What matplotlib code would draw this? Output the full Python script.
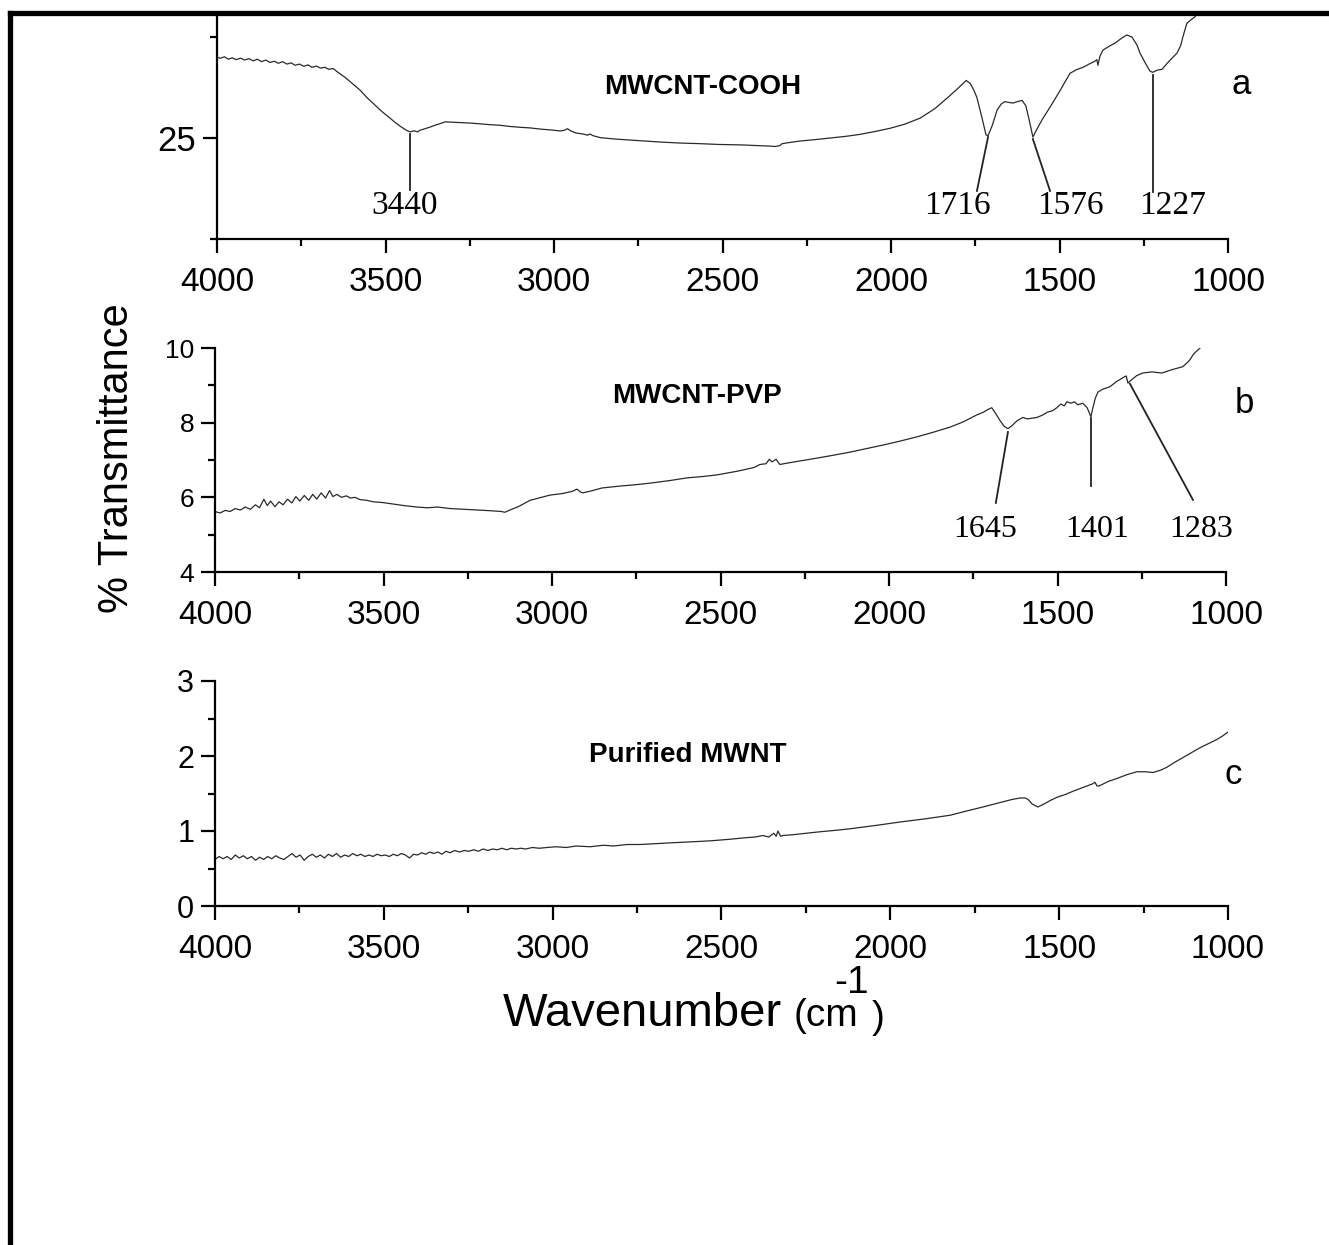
import matplotlib
matplotlib.use("Agg")
import matplotlib.pyplot as plt
from matplotlib.ticker import MultipleLocator, FixedLocator
from matplotlib.lines import Line2D

plt.rcParams['font.family'] = ['Liberation Sans', 'DejaVu Sans']

# ---- data (wavenumber cm-1, % transmittance) ----
wn_a = [4000, 3990, 3978, 3966, 3955, 3943, 3930, 3918, 3905, 3893, 3880, 3868, 3855, 3843,
        3830, 3818, 3805, 3793, 3780, 3768, 3755, 3743, 3730, 3718, 3705, 3693, 3680, 3668,
        3655, 3645, 3635, 3620, 3600, 3576, 3555, 3531, 3510, 3487, 3470, 3457, 3440, 3427,
        3415, 3405, 3398, 3385, 3368, 3355, 3340, 3323, 3300, 3275, 3249, 3220, 3190, 3160,
        3130, 3100, 3071, 3040, 3010, 2982, 2970, 2960, 2950, 2935, 2915, 2900, 2893, 2885,
        2863, 2820, 2774, 2730, 2685, 2625, 2567, 2510, 2448, 2389, 2360, 2344, 2330, 2323,
        2300, 2270, 2225, 2181, 2135, 2092, 2045, 2003, 1960, 1914, 1870, 1825, 1800, 1777,
        1765, 1755, 1745, 1730, 1718, 1712, 1700, 1685, 1672, 1662, 1650, 1638, 1625, 1611,
        1600, 1590, 1579, 1565, 1550, 1528, 1500, 1469, 1450, 1430, 1410, 1395, 1389, 1386,
        1380, 1371, 1355, 1335, 1315, 1300, 1285, 1270, 1261, 1245, 1232, 1224, 1210, 1196,
        1175, 1151, 1140, 1134, 1122, 1110, 1098, 1080]
t_a = [29.00, 28.95, 29.02, 28.90, 28.97, 28.88, 28.95, 28.86, 28.93, 28.82, 28.90, 28.78, 28.86, 28.74,
       28.80, 28.70, 28.78, 28.66, 28.72, 28.60, 28.66, 28.55, 28.62, 28.50, 28.56, 28.46, 28.50, 28.40,
       28.44, 28.30, 28.18, 28.00, 27.72, 27.38, 27.00, 26.63, 26.30, 25.99, 25.75, 25.59, 25.40, 25.30,
       25.36, 25.30, 25.38, 25.45, 25.54, 25.62, 25.70, 25.80, 25.78, 25.76, 25.74, 25.70, 25.66, 25.63,
       25.57, 25.53, 25.50, 25.44, 25.40, 25.35, 25.38, 25.46, 25.35, 25.25, 25.20, 25.14, 25.20, 25.12,
       25.02, 24.95, 24.90, 24.85, 24.80, 24.75, 24.72, 24.68, 24.66, 24.62, 24.60, 24.58, 24.62, 24.72,
       24.78, 24.85, 24.92, 25.00, 25.08, 25.18, 25.33, 25.48, 25.68, 25.98, 26.45, 27.10, 27.48, 27.85,
       27.70, 27.40, 27.00, 26.00, 25.15, 25.12, 25.60, 26.39, 26.70, 26.80, 26.76, 26.73, 26.80, 26.86,
       26.60, 25.90, 25.05, 25.50, 25.95, 26.53, 27.30, 28.20, 28.38, 28.50, 28.68, 28.80, 28.88, 28.60,
       29.05, 29.35, 29.52, 29.70, 29.95, 30.10, 30.00, 29.60, 29.20, 28.70, 28.32, 28.25, 28.36, 28.40,
       28.80, 29.21, 29.60, 30.00, 30.68, 30.85, 31.00, 31.45]

wn_b = [4000, 3985, 3970, 3955, 3940, 3925, 3910, 3895, 3880, 3868, 3855, 3845, 3835, 3822,
        3810, 3798, 3785, 3772, 3760, 3748, 3735, 3722, 3710, 3698, 3685, 3672, 3660, 3650,
        3638, 3625, 3610, 3598, 3585, 3570, 3550, 3530, 3502, 3470, 3440, 3401, 3370, 3340,
        3303, 3260, 3214, 3180, 3150, 3140, 3125, 3100, 3065, 3040, 3006, 2970, 2940, 2926,
        2915, 2908, 2880, 2852, 2800, 2750, 2709, 2650, 2600, 2550, 2511, 2450, 2400, 2383,
        2365, 2355, 2347, 2335, 2324, 2300, 2260, 2214, 2170, 2116, 2070, 2018, 1970, 1917,
        1870, 1819, 1780, 1739, 1720, 1705, 1695, 1686, 1670, 1658, 1647, 1635, 1620, 1603,
        1590, 1575, 1561, 1545, 1530, 1515, 1502, 1490, 1480, 1472, 1460, 1450, 1440, 1425,
        1412, 1405, 1401, 1395, 1388, 1380, 1365, 1345, 1325, 1303, 1296, 1291, 1280, 1265,
        1247, 1220, 1190, 1160, 1128, 1110, 1095, 1077]
t_b = [5.62, 5.58, 5.65, 5.62, 5.70, 5.66, 5.74, 5.68, 5.80, 5.72, 5.95, 5.78, 5.90, 5.75,
       5.88, 5.80, 5.95, 5.85, 6.02, 5.90, 6.05, 5.92, 6.08, 5.95, 6.12, 5.98, 6.18, 6.02,
       6.08, 6.00, 6.04, 5.98, 6.00, 5.94, 5.92, 5.88, 5.86, 5.82, 5.78, 5.74, 5.72, 5.74,
       5.70, 5.68, 5.66, 5.64, 5.62, 5.60, 5.66, 5.75, 5.92, 5.98, 6.06, 6.10, 6.16, 6.22,
       6.14, 6.12, 6.18, 6.25, 6.30, 6.34, 6.38, 6.45, 6.52, 6.56, 6.60, 6.70, 6.80, 6.88,
       6.90, 7.02, 6.95, 7.02, 6.88, 6.92, 6.98, 7.05, 7.12, 7.21, 7.30, 7.40, 7.50, 7.62,
       7.74, 7.88, 8.02, 8.21, 8.28, 8.36, 8.40, 8.28, 8.05, 7.90, 7.84, 7.92, 8.05, 8.14,
       8.10, 8.12, 8.14, 8.20, 8.28, 8.32, 8.40, 8.50, 8.45, 8.56, 8.52, 8.56, 8.48, 8.52,
       8.40, 8.25, 8.16, 8.40, 8.65, 8.82, 8.90, 8.96, 9.10, 9.22, 9.25, 9.06, 9.15, 9.26,
       9.33, 9.36, 9.33, 9.42, 9.50, 9.65, 9.85, 10.00]

wn_c = [4000, 3988, 3976, 3964, 3952, 3940, 3928, 3916, 3904, 3892, 3880, 3868, 3856, 3844,
        3832, 3820, 3808, 3796, 3784, 3772, 3760, 3748, 3736, 3724, 3712, 3700, 3688, 3676,
        3664, 3652, 3640, 3628, 3616, 3604, 3592, 3580, 3568, 3556, 3544, 3532, 3520, 3508,
        3496, 3484, 3472, 3460, 3448, 3436, 3424, 3412, 3400, 3388, 3376, 3364, 3352, 3340,
        3328, 3316, 3304, 3290, 3276, 3262, 3248, 3234, 3220, 3206, 3192, 3178, 3164, 3150,
        3136, 3122, 3108, 3094, 3080, 3060, 3040, 3017, 2990, 2960, 2930, 2889, 2850, 2820,
        2780, 2740, 2700, 2660, 2614, 2570, 2530, 2475, 2430, 2400, 2377, 2360, 2345, 2338,
        2333, 2325, 2318, 2290, 2250, 2208, 2160, 2119, 2050, 1971, 1900, 1823, 1780, 1726,
        1675, 1640, 1616, 1600, 1592, 1580, 1563, 1545, 1525, 1506, 1480, 1459, 1430, 1400,
        1394, 1388, 1382, 1355, 1329, 1300, 1270, 1245, 1222, 1200, 1181, 1160, 1133, 1110,
        1083, 1060, 1033, 1015, 1000]
t_c = [0.62, 0.66, 0.63, 0.66, 0.62, 0.68, 0.64, 0.67, 0.63, 0.66, 0.61, 0.65, 0.62, 0.66,
       0.63, 0.67, 0.64, 0.62, 0.66, 0.70, 0.65, 0.68, 0.61, 0.66, 0.69, 0.65, 0.68, 0.64,
       0.69, 0.66, 0.70, 0.65, 0.68, 0.66, 0.70, 0.67, 0.69, 0.66, 0.68, 0.66, 0.69, 0.67,
       0.68, 0.66, 0.69, 0.67, 0.70, 0.68, 0.64, 0.69, 0.68, 0.71, 0.69, 0.72, 0.70, 0.72,
       0.69, 0.73, 0.71, 0.74, 0.72, 0.74, 0.73, 0.75, 0.73, 0.76, 0.74, 0.76, 0.75, 0.77,
       0.75, 0.77, 0.76, 0.77, 0.76, 0.78, 0.77, 0.78, 0.79, 0.78, 0.80, 0.79, 0.81, 0.80,
       0.82, 0.82, 0.83, 0.84, 0.85, 0.86, 0.87, 0.89, 0.91, 0.92, 0.94, 0.92, 0.97, 0.93,
       1.00, 0.93, 0.94, 0.95, 0.97, 0.99, 1.01, 1.03, 1.07, 1.12, 1.16, 1.21, 1.26, 1.32,
       1.38, 1.42, 1.44, 1.44, 1.42, 1.36, 1.32, 1.36, 1.41, 1.45, 1.49, 1.53, 1.58, 1.63,
       1.65, 1.60, 1.60, 1.66, 1.70, 1.75, 1.79, 1.79, 1.78, 1.81, 1.85, 1.91, 1.98, 2.04,
       2.11, 2.16, 2.22, 2.27, 2.32]

samples = ['MWCNT-COOH', 'MWCNT-PVP', 'Purified MWNT']
panel_tags = ['a', 'b', 'c']

# peak labels: text, leader line (x0, y0) -> (x1, y1), text position (data units)
peaks_a = [('3440', (3427, 25.2), (3427, 22.43), (3442, 21.63)),
           ('1716', (1712, 25.05), (1745, 22.38), (1804, 21.63)),
           ('1576', (1579, 24.95), (1528, 22.38), (1469, 21.63)),
           ('1227', (1223, 28.12), (1223, 22.33), (1164, 21.63))]
peaks_b = [('1645', (1647, 7.75), (1683, 5.85), (1715, 5.13)),
           ('1401', (1401, 8.13), (1401, 6.30), (1383, 5.13)),
           ('1283', (1285, 9.04), (1098, 5.93), (1075, 5.13))]

W, H = 1329, 1245
fig = plt.figure(figsize=(W / 100, H / 100), dpi=100)


def fx(px):
    return px / W


def fy(py):
    return 1 - py / H


def make_panel(left, top, right, bottom, ylim, ymajor, yminor, ysize):
    ax = fig.add_axes([fx(left), fy(bottom), fx(right) - fx(left), fy(top) - fy(bottom)])
    ax.set_xlim(4000, 1000)
    ax.set_ylim(*ylim)
    for s in ['top', 'right']:
        ax.spines[s].set_visible(False)
    for s in ['left', 'bottom']:
        ax.spines[s].set_linewidth(1.6)
    ax.xaxis.set_major_locator(MultipleLocator(500))
    ax.xaxis.set_minor_locator(MultipleLocator(250))
    ax.yaxis.set_major_locator(FixedLocator(ymajor))
    ax.yaxis.set_minor_locator(FixedLocator(yminor))
    ax.tick_params(which='major', length=10, width=1.6, direction='out')
    ax.tick_params(which='minor', length=5, width=1.6, direction='out')
    ax.tick_params(axis='x', labelsize=24, pad=10)
    ax.tick_params(axis='y', labelsize=ysize, pad=5)
    return ax


ax_a = make_panel(217, 16, 1228, 239, (20, 31.04), [25], [20, 30], 25)
ax_b = make_panel(215, 348, 1226, 572, (4, 10), [4, 6, 8, 10], [5, 7, 9], 19)
ax_c = make_panel(215, 681, 1228, 906, (0, 3), [0, 1, 2, 3], [0.5, 1.5, 2.5], 22)

line_kw = dict(color='#2a2a2a', lw=0.9)
ax_a.plot(wn_a, t_a, **line_kw)
ax_b.plot(wn_b, t_b, **line_kw)
ax_c.plot(wn_c, t_c, **line_kw)

for ax, peaks, size in [(ax_a, peaks_a, 24), (ax_b, peaks_b, 23)]:
    for lab, p0, p1, pt in peaks:
        ax.plot([p0[0], p1[0]], [p0[1], p1[1]], color='#222222', lw=1.3, clip_on=False)
        ax.text(pt[0], pt[1], lab, ha='center', va='center', fontsize=size,
                family=['Liberation Serif', 'DejaVu Serif'])

# sample names and panel letters
for (px, py), name in zip([(703, 87), (697, 396), (688, 755)], samples):
    fig.text(fx(px), fy(py), name, ha='center', va='center', fontsize=20, fontweight='bold')
for (px, py), tag in zip([(1241, 84), (1244, 404), (1233, 774)], panel_tags):
    fig.text(fx(px), fy(py), tag, ha='center', va='center', fontsize=25)

# axis titles
fig.text(fx(117), fy(458), '% Transmittance', rotation=90, ha='center', va='center', fontsize=30)
fig.text(fx(503), fy(1014), 'Wavenumber', ha='left', va='center', fontsize=34)
fig.text(fx(794), fy(1016), '(cm', ha='left', va='center', fontsize=28)
fig.text(fx(852), fy(983), '-1', ha='center', va='center', fontsize=28)
fig.text(fx(878), fy(1018), ')', ha='center', va='center', fontsize=28)

# black frame (left and top edges of the cropped figure)
frame_kw = dict(color='black', lw=3.8, transform=fig.transFigure, solid_capstyle='projecting')
fig.add_artist(Line2D([fx(10), fx(10)], [0, fy(13)], **frame_kw))
fig.add_artist(Line2D([fx(10), 1.01], [fy(13), fy(13)], **frame_kw))

fig.savefig('out.png', dpi=100)
